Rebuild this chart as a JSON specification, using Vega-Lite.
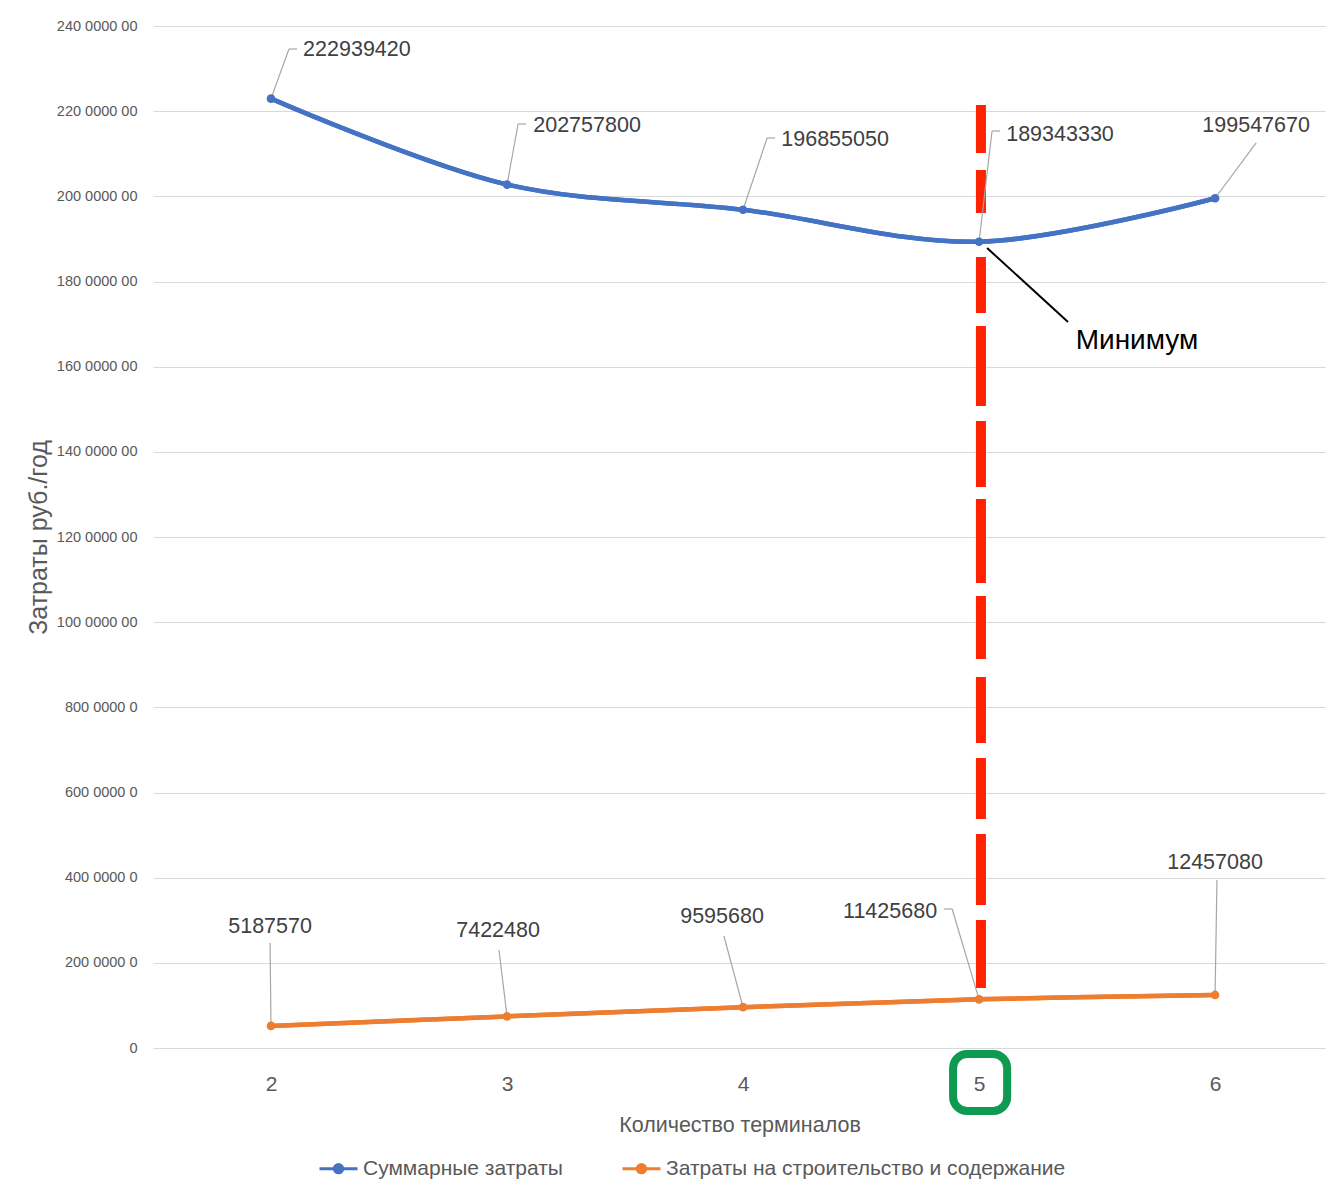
{
  "$schema": "https://vega.github.io/schema/vega-lite/v6.json",
  "width": 1173,
  "height": 1022,
  "autosize": {"type": "none"},
  "padding": {"left": 153, "top": 26, "right": 0, "bottom": 132},
  "background": "white",
  "config": {"view": {"stroke": null}, "font": "Liberation Sans"},
  "datasets": {
    "costs": [
      {"n": 2, "series": "Суммарные затраты", "cost": 222939420},
      {"n": 3, "series": "Суммарные затраты", "cost": 202757800},
      {"n": 4, "series": "Суммарные затраты", "cost": 196855050},
      {"n": 5, "series": "Суммарные затраты", "cost": 189343330},
      {"n": 6, "series": "Суммарные затраты", "cost": 199547670},
      {"n": 2, "series": "Затраты на строительство и содержание", "cost": 5187570},
      {"n": 3, "series": "Затраты на строительство и содержание", "cost": 7422480},
      {"n": 4, "series": "Затраты на строительство и содержание", "cost": 9595680},
      {"n": 5, "series": "Затраты на строительство и содержание", "cost": 11425680},
      {"n": 6, "series": "Затраты на строительство и содержание", "cost": 12457080}
    ],
    "labels": [
      {"text": "222939420", "lx": 2.364, "ly": 234480000},
      {"text": "202757800", "lx": 3.339, "ly": 216517000},
      {"text": "196855050", "lx": 4.39, "ly": 213230000},
      {"text": "189343330", "lx": 5.343, "ly": 214400000},
      {"text": "199547670", "lx": 6.174, "ly": 216517000},
      {"text": "5187570", "lx": 1.996, "ly": 28415000},
      {"text": "7422480", "lx": 2.962, "ly": 27476000},
      {"text": "9595680", "lx": 3.911, "ly": 30763000},
      {"text": "11425680", "lx": 4.623, "ly": 31937000},
      {"text": "12457080", "lx": 6.0, "ly": 43444000}
    ],
    "leaders": [
      {"x1": 2, "y1": 222939420, "x2": 2.076, "y2": 234600000},
      {"x1": 2.076, "y1": 234600000, "x2": 2.11, "y2": 234600000},
      {"x1": 3, "y1": 202757800, "x2": 3.047, "y2": 216990000},
      {"x1": 3.047, "y1": 216990000, "x2": 3.081, "y2": 216990000},
      {"x1": 4, "y1": 196855050, "x2": 4.102, "y2": 213700000},
      {"x1": 4.102, "y1": 213700000, "x2": 4.136, "y2": 213700000},
      {"x1": 5, "y1": 189343330, "x2": 5.055, "y2": 215340000},
      {"x1": 5.055, "y1": 215340000, "x2": 5.089, "y2": 215340000},
      {"x1": 6, "y1": 199547670, "x2": 6.174, "y2": 212530000},
      {"x1": 2, "y1": 5187570, "x2": 1.996, "y2": 24660000},
      {"x1": 3, "y1": 7422480, "x2": 2.966, "y2": 23010000},
      {"x1": 4, "y1": 9595680, "x2": 3.919, "y2": 26300000},
      {"x1": 5, "y1": 11425680, "x2": 4.886, "y2": 32640000},
      {"x1": 4.886, "y1": 32640000, "x2": 4.852, "y2": 32640000},
      {"x1": 6, "y1": 12457080, "x2": 6.008, "y2": 39450000}
    ]
  },
  "layer": [
    {
      "data": {"name": "costs"},
      "mark": {"type": "line", "interpolate": "catmull-rom", "strokeWidth": 4.5},
      "encoding": {
        "x": {
          "field": "n", "type": "quantitative",
          "scale": {"domain": [1.5, 6.47], "nice": false, "zero": false},
          "axis": {
            "values": [2, 3, 4, 5, 6], "format": "d", "grid": false, "domain": false, "ticks": false,
            "labelFontSize": 21, "labelColor": "#595959", "labelPadding": 25, "labelFont": "Liberation Sans",
            "title": "Количество терминалов", "titleFontSize": 21.5, "titleFontWeight": "normal", "titleColor": "#595959",
            "titleFont": "Liberation Sans", "titleY": 77, "titleBaseline": "middle"
          }
        },
        "y": {
          "field": "cost", "type": "quantitative",
          "scale": {"domain": [0, 240000000], "nice": false},
          "axis": {
            "values": [0, 20000000, 40000000, 60000000, 80000000, 100000000, 120000000, 140000000, 160000000, 180000000, 200000000, 220000000, 240000000],
            "labelExpr": "datum.value == 0 ? '0' : substring(format(datum.value, 'd'), 0, 3) + ' ' + substring(format(datum.value, 'd'), 3, 7) + ' ' + substring(format(datum.value, 'd'), 7)",
            "grid": true, "gridColor": "#D9D9D9", "gridWidth": 1, "domain": false, "ticks": false,
            "labelFontSize": 14.5, "labelColor": "#595959", "labelPadding": 16, "labelFont": "Liberation Sans",
            "title": "Затраты руб./год", "titleFontSize": 25, "titleFontWeight": "normal", "titleColor": "#595959",
            "titleFont": "Liberation Sans", "titleX": -115, "titleY": 511, "titleAngle": -90, "titleAlign": "center", "titleBaseline": "middle"
          }
        },
        "color": {
          "field": "series", "type": "nominal",
          "scale": {"domain": ["Суммарные затраты", "Затраты на строительство и содержание"], "range": ["#4472C4", "#ED7D31"]},
          "legend": {
            "orient": "none", "legendX": 165, "legendY": 1122, "direction": "horizontal", "title": null,
            "symbolType": "M-1,0H1M0.22,0A0.22,0.22,0,1,1,-0.22,0A0.22,0.22,0,1,1,0.22,0Z",
            "symbolSize": 1444, "symbolStrokeWidth": 3,
            "labelFontSize": 21, "labelFont": "Liberation Sans", "labelColor": "#595959", "labelOffset": 4,
            "columnPadding": 53, "labelLimit": 700, "padding": 0,
            "encode": {"symbols": {"update": {"fill": {"scale": "color", "field": "value"}, "fillOpacity": {"value": 1}}}}
          }
        }
      }
    },
    {
      "data": {"values": [{}]},
      "mark": {"type": "rule", "color": "#FF2200", "strokeWidth": 10, "strokeDash": [48, 17, 43, 44, 56, 13, 80, 15, 66, 12, 84, 13, 63, 18, 66, 15, 61, 15, 71, 15, 68, 100]},
      "encoding": {
        "x": {"datum": 5.008, "type": "quantitative"},
        "y": {"datum": 221450000, "type": "quantitative"},
        "y2": {"datum": 14090000}
      }
    },
    {
      "data": {"name": "costs"},
      "mark": {"type": "line", "interpolate": "catmull-rom", "strokeWidth": 4.5},
      "encoding": {
        "x": {"field": "n", "type": "quantitative"},
        "y": {"field": "cost", "type": "quantitative"},
        "color": {"field": "series", "type": "nominal", "legend": null}
      }
    },
    {
      "data": {"name": "leaders"},
      "mark": {"type": "rule", "color": "#A6A6A6", "strokeWidth": 1.2},
      "encoding": {
        "x": {"field": "x1", "type": "quantitative"},
        "y": {"field": "y1", "type": "quantitative"},
        "x2": {"field": "x2"},
        "y2": {"field": "y2"}
      }
    },
    {
      "data": {"name": "costs"},
      "mark": {"type": "circle", "size": 75, "opacity": 1},
      "encoding": {
        "x": {"field": "n", "type": "quantitative"},
        "y": {"field": "cost", "type": "quantitative"},
        "color": {"field": "series", "type": "nominal", "legend": null}
      }
    },
    {
      "data": {"name": "labels"},
      "mark": {"type": "text", "fontSize": 21.5, "font": "Liberation Sans", "color": "#404040", "align": "center", "baseline": "middle"},
      "encoding": {
        "x": {"field": "lx", "type": "quantitative"},
        "y": {"field": "ly", "type": "quantitative"},
        "text": {"field": "text"}
      }
    },
    {
      "data": {"values": [{}]},
      "mark": {"type": "rule", "color": "#000000", "strokeWidth": 2},
      "encoding": {
        "x": {"datum": 5.034, "type": "quantitative"},
        "y": {"datum": 187870000, "type": "quantitative"},
        "x2": {"datum": 5.377},
        "y2": {"datum": 170490000}
      }
    },
    {
      "data": {"values": [{}]},
      "mark": {"type": "text", "fontSize": 28, "font": "Liberation Sans", "color": "#000000", "align": "center", "baseline": "middle"},
      "encoding": {
        "x": {"datum": 5.669, "type": "quantitative"},
        "y": {"datum": 166030000, "type": "quantitative"},
        "text": {"value": "Минимум"}
      }
    },
    {
      "data": {"values": [{}]},
      "mark": {"type": "rect", "filled": false, "stroke": "#0E9A50", "strokeWidth": 8, "cornerRadius": 14},
      "encoding": {
        "x": {"datum": 4.89, "type": "quantitative"},
        "x2": {"datum": 5.119},
        "y": {"datum": -1409000, "type": "quantitative"},
        "y2": {"datum": -14790000}
      }
    }
  ]
}
